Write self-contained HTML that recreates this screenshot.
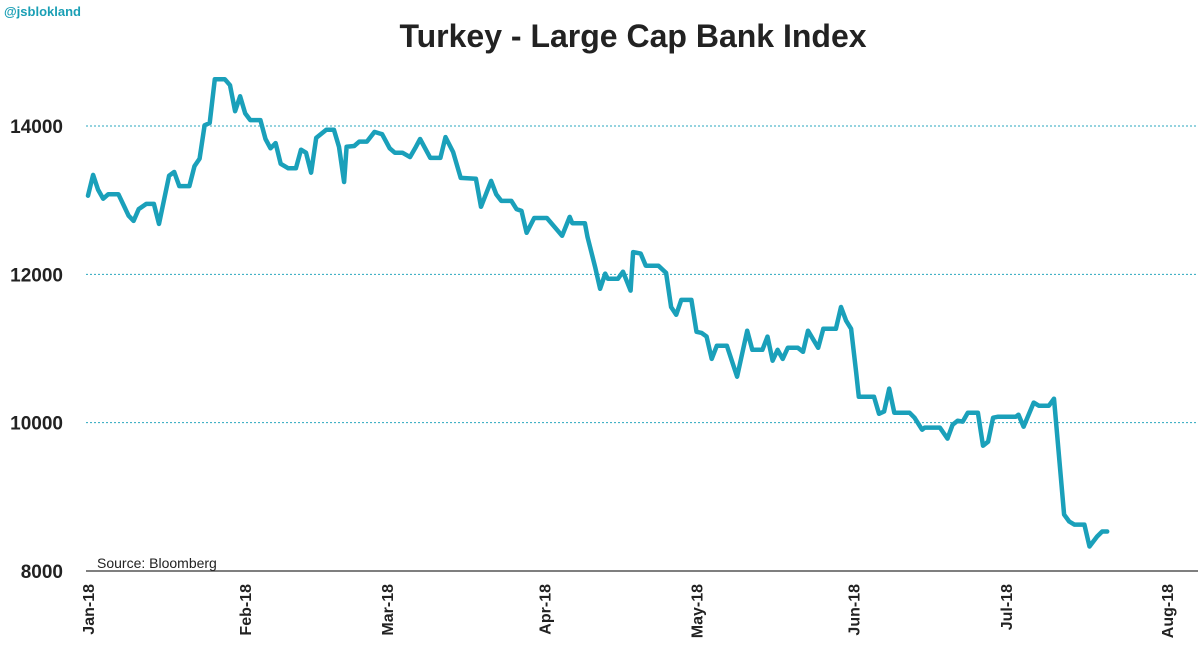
<!DOCTYPE html>
<html><head><meta charset="utf-8"><style>
html,body{margin:0;padding:0;background:#fff;}
svg text{font-family:"Liberation Sans",sans-serif;}
</style></head><body>
<svg id="chart" width="1200" height="657" viewBox="0 0 1200 657">
  <rect x="0" y="0" width="1200" height="657" fill="#fff"/>
  <g>
    <text x="4" y="16" font-size="13" font-weight="bold" fill="#1a9fb5">@jsblokland</text>
  </g>
  <text x="633" y="47" text-anchor="middle" font-size="32" font-weight="bold" fill="#222">Turkey - Large Cap Bank Index</text>
  <g id="grid"></g>
  <g id="yaxis"></g>
  <g id="xaxis"></g>
  <g id="series"></g>
  <text x="97" y="568" font-size="14" fill="#222">Source: Bloomberg</text>
</svg>
<script>
const monthLabels=["Jan-18","Feb-18","Mar-18","Apr-18","May-18","Jun-18","Jul-18","Aug-18"];
const monthDays=[0,31,59,90,120,151,181,212];
const yTicks=[8000,10000,12000,14000];
const gridValues=[10000,12000,14000];
const days=[0,1,2,3,4,6,8,9,10,11.5,13,14,16,17,18,20,21,22,23,24,25,27,28,29,30,31,32,34,35,36,37,38,39.5,41,42,43,44,45,47,48.5,49.5,50.5,51,52.5,53.5,55,56.5,58,59.5,60.5,62,63.5,64.5,65.5,67.5,69.5,70.5,72,73.5,76.5,77.5,79.5,80.5,81.5,83.5,84.5,85.5,86.5,88,90.5,92.5,93.5,95,95.5,98,98.5,100,101,102,102.5,104.5,105.5,107,107.5,109,110,112.5,114,115,116,117,119,120,121,122,123,124,126,128,130,131,133,134,135,136,137,138,140,141,142,144,145,147.5,148.5,149.5,150.5,151.5,152,155,156,157,158,159,162,163,164.5,165,168,169.5,170.5,171.5,172.5,173.5,175.5,176.5,177.5,178.5,179.5,183,183.5,184.5,186.5,187.5,189.5,190.5,192.5,193.5,194.5,196.5,197.5,199,200,201];
const values=[13060,13340,13140,13020,13080,13080,12790,12720,12880,12950,12950,12680,13330,13380,13190,13190,13460,13560,14010,14040,14630,14630,14550,14200,14400,14170,14080,14080,13825,13700,13770,13490,13430,13430,13680,13640,13370,13840,13950,13950,13720,13245,13720,13730,13790,13790,13920,13890,13700,13640,13640,13580,13700,13825,13570,13570,13850,13650,13300,13290,12910,13260,13080,12990,12990,12880,12855,12560,12760,12760,12600,12520,12775,12690,12690,12505,12100,11805,12010,11940,11940,12035,11780,12300,12280,12115,12115,12020,11560,11455,11655,11655,11225,11210,11160,10860,11037,11037,10620,11240,10983,10983,11160,10835,10983,10860,11010,11010,10956,11240,11010,11266,11266,11560,11375,11266,10673,10350,10350,10120,10150,10460,10135,10135,10067,9905,9933,9933,9785,9973,10027,10014,10135,10135,9690,9744,10067,10081,10081,10108,9946,10270,10229,10229,10323,8760,8667,8626,8626,8330,8465,8532,8532];

const NS="http://www.w3.org/2000/svg";
const x0=88,x1=1163,y8=571,y14=126;
const xs=d=>x0+d*(x1-x0)/212;
const ys=v=>y8-(v-8000)*(y8-y14)/6000;
function mk(tag,attrs,parent){const e=document.createElementNS(NS,tag);for(const k in attrs)e.setAttribute(k,attrs[k]);parent.appendChild(e);return e;}
const grid=document.getElementById('grid'),ya=document.getElementById('yaxis'),xa=document.getElementById('xaxis'),ser=document.getElementById('series');
gridValues.forEach(v=>{
  const l=mk('line',{x1:x0-2,x2:1198,y1:ys(v),y2:ys(v),stroke:'#2aa7bf','stroke-width':1,'stroke-dasharray':'2,2'},grid);
  
  
});
const ax=mk('line',{x1:x0-2,x2:1198,y1:y8,y2:y8,stroke:'#555','stroke-width':1.5},xa);


yTicks.forEach(v=>{
  const t=mk('text',{x:63,y:ys(v)+7,'text-anchor':'end','font-size':19,'font-weight':'bold',fill:'#222'},ya);
  t.textContent=v;
  
  
});
monthLabels.forEach((m,i)=>{
  const x=xs(monthDays[i])+ (i===7?4:0);
  const t=mk('text',{x:0,y:0,'text-anchor':'end','font-size':16,'font-weight':'bold',fill:'#222',transform:'translate('+(x+6)+',584) rotate(-90)'},xa);
  t.textContent=m;
  
  
});
const pts=days.map((d,i)=>xs(d).toFixed(1)+','+ys(values[i]).toFixed(1)).join(' ');
const pl=mk('polyline',{points:pts,fill:'none',stroke:'#1aa0ba','stroke-width':4.5,'stroke-linejoin':'round','stroke-linecap':'round'},ser);


</script>
</body></html>
